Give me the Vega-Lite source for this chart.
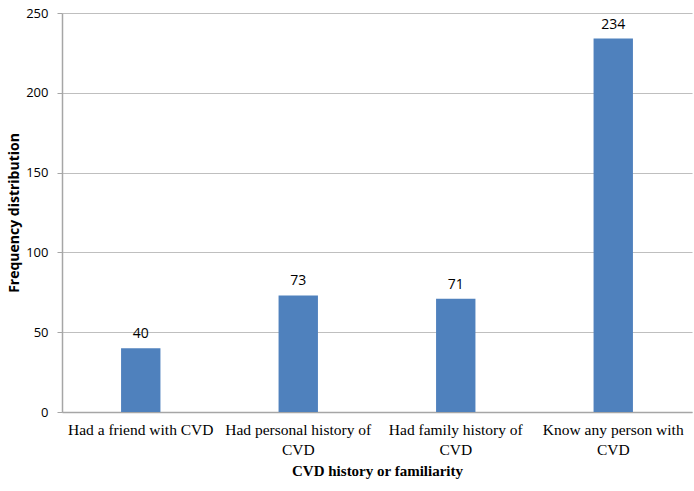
{
  "$schema": "https://vega.github.io/schema/vega-lite/v6.json",
  "autosize": "none",
  "width": 630,
  "height": 399,
  "padding": {"left": 62, "top": 13, "right": 2, "bottom": 79},
  "background": "white",
  "data": {
    "values": [
      {"group": "Had a friend with CVD", "count": 40},
      {"group": "Had personal history of CVD", "count": 73},
      {"group": "Had family history of CVD", "count": 71},
      {"group": "Know any person with CVD", "count": 234}
    ]
  },
  "encoding": {
    "x": {
      "field": "group",
      "type": "nominal",
      "sort": null,
      "scale": {"paddingInner": 0.75, "paddingOuter": 0.375},
      "axis": {
        "title": "CVD history or familiarity",
        "titleFont": "Liberation Serif",
        "titleFontSize": 15,
        "titleFontWeight": "bold",
        "titleColor": "#000000",
        "titlePadding": 6,
        "labelFont": "Liberation Serif",
        "labelFontSize": 15.5,
        "labelColor": "#000000",
        "labelAngle": 0,
        "labelPadding": 10,
        "labelLimit": 200,
        "labelLineHeight": 20,
        "labelExpr": "datum.label == 'Had a friend with CVD' ? datum.label : [substring(datum.label, 0, lastindexof(datum.label, ' ')), 'CVD']",
        "ticks": false,
        "domainColor": "#A6A6A6",
        "domainWidth": 1.5
      }
    }
  },
  "layer": [
    {
      "mark": {"type": "bar", "color": "#4F81BD"},
      "encoding": {
        "y": {
          "field": "count",
          "type": "quantitative",
          "scale": {"domain": [0, 250], "nice": false},
          "axis": {
            "title": "Frequency distribution",
            "titleFont": "Open Sans",
            "titleFontSize": 14,
            "titleFontWeight": "bold",
            "titleColor": "#000000",
            "titlePadding": 4,
            "values": [0, 50, 100, 150, 200, 250],
            "labelFont": "Open Sans",
            "labelFontSize": 13,
            "labelColor": "#000000",
            "labelPadding": 9,
            "tickColor": "#A6A6A6",
            "tickSize": 5,
            "domainColor": "#A6A6A6",
            "domainWidth": 1.5,
            "gridColor": "#BFBFBF",
            "gridWidth": 1.2
          }
        }
      }
    },
    {
      "mark": {"type": "text", "baseline": "bottom", "dy": -7, "font": "Open Sans", "fontSize": 14, "color": "#000000"},
      "encoding": {
        "y": {"field": "count", "type": "quantitative"},
        "text": {"field": "count", "type": "quantitative"}
      }
    }
  ],
  "config": {"view": {"stroke": null}}
}
